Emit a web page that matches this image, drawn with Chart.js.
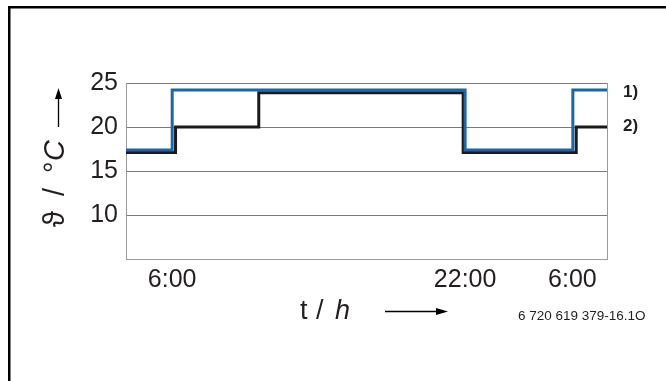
<!DOCTYPE html>
<html>
<head>
<meta charset="utf-8">
<script src="https://cdn.jsdelivr.net/npm/chart.js@4.4.1/dist/chart.umd.min.js"></script>
<style>
  body { margin: 0; background: #fff; }
  canvas { display: block; }
</style>
</head>
<body>
<canvas id="tempChart" width="666" height="381"></canvas>
<script>
// schematic time axis, 0..100 across the plot
const xRange = [0, 100];
const tickPositions = [9.6, 70.5, 92.8];
const tickLabels = ['6:00', '22:00', '6:00'];
const yRange = [5, 25];

// 1) blue curve
const series1X = [0, 9.6, 70.5, 92.9, 100];
const series1Y = [17.4, 24.2, 17.4, 24.2, 24.2];
// 2) black curve
const series2X = [0, 10.3, 27.6, 70.1, 93.6, 100];
const series2Y = [17.1, 20, 23.9, 17.1, 20, 20];
const seriesNames = ['1)', '2)'];

const fontFamily = "'Liberation Sans', Arial, 'DejaVu Sans', sans-serif";
const ink = '#231f20';

function toPoints(xs, ys) {
    return xs.map((x, i) => ({ x: x, y: ys[i] }));
}

// frame, titles, arrows and the little reference number
const decorPlugin = {
    id: 'decor',
    afterDraw(chart) {
        const ctx = chart.ctx;
        const area = chart.chartArea;
        const yScale = chart.scales.y;
        ctx.save();

        // outer frame (top + left only)
        ctx.fillStyle = '#000';
        ctx.fillRect(8, 6, 658, 2.5);
        ctx.fillRect(8, 6, 2.5, 375);

        // right border of plot
        ctx.strokeStyle = '#9a9a9a';
        ctx.lineWidth = 1;
        ctx.beginPath();
        ctx.moveTo(area.right + 0.5, area.top);
        ctx.lineTo(area.right + 0.5, area.bottom);
        ctx.stroke();

        // series labels at the right end
        ctx.fillStyle = ink;
        ctx.font = 'bold 17px ' + fontFamily;
        ctx.textAlign = 'left';
        ctx.textBaseline = 'middle';
        ctx.fillText(seriesNames[0], area.right + 16, yScale.getPixelForValue(series1Y[series1Y.length - 1]) + 2.5);
        ctx.fillText(seriesNames[1], area.right + 16, yScale.getPixelForValue(series2Y[series2Y.length - 1]) - 1);

        // y axis title, rotated
        ctx.save();
        ctx.translate(64, 227);
        ctx.rotate(-Math.PI / 2);
        ctx.textBaseline = 'alphabetic';
        ctx.font = '29px ' + fontFamily;
        ctx.fillText('\u03d1', 0, 0);
        ctx.fillText('/', 31, 0);
        ctx.fillText('\u00b0', 54, 0);
        ctx.font = 'italic 29px ' + fontFamily;
        ctx.fillText('C', 66, 0);
        ctx.restore();

        // y arrow
        ctx.strokeStyle = '#000';
        ctx.fillStyle = '#000';
        ctx.lineWidth = 1.3;
        ctx.beginPath();
        ctx.moveTo(58.5, 127);
        ctx.lineTo(58.5, 97);
        ctx.stroke();
        ctx.beginPath();
        ctx.moveTo(58.5, 88);
        ctx.lineTo(55, 99);
        ctx.lineTo(62, 99);
        ctx.closePath();
        ctx.fill();

        // x axis title
        ctx.fillStyle = ink;
        ctx.textBaseline = 'alphabetic';
        ctx.font = '27px ' + fontFamily;
        ctx.fillText('t', 300, 318.5);
        ctx.fillText('/', 316, 318.5);
        ctx.font = 'italic 27px ' + fontFamily;
        ctx.fillText('h', 335, 318.5);

        // x arrow
        ctx.strokeStyle = '#000';
        ctx.fillStyle = '#000';
        ctx.beginPath();
        ctx.moveTo(385, 311.5);
        ctx.lineTo(438, 311.5);
        ctx.stroke();
        ctx.beginPath();
        ctx.moveTo(448, 311.5);
        ctx.lineTo(436, 308);
        ctx.lineTo(436, 315);
        ctx.closePath();
        ctx.fill();

        // figure id
        ctx.fillStyle = ink;
        ctx.font = '13.5px ' + fontFamily;
        ctx.textBaseline = 'middle';
        ctx.fillText('6 720 619 379-16.1O', 518, 316);

        ctx.restore();
    }
};

new Chart(document.getElementById('tempChart'), {
    type: 'line',
    data: {
        datasets: [{
            label: seriesNames[0],
            data: toPoints(series1X, series1Y),
            borderColor: '#1b64ae',
            borderWidth: 3,
            stepped: 'before',
            pointRadius: 0,
            borderJoinStyle: 'miter'
        }, {
            label: seriesNames[1],
            data: toPoints(series2X, series2Y),
            borderColor: '#1a1a1a',
            borderWidth: 3,
            stepped: 'before',
            pointRadius: 0,
            borderJoinStyle: 'miter'
        }]
    },
    options: {
        responsive: false,
        animation: false,
        layout: { padding: { top: 83, right: 59, left: 0, bottom: 0 } },
        plugins: {
            legend: { display: false },
            tooltip: { enabled: false }
        },
        scales: {
            x: {
                type: 'linear',
                min: xRange[0],
                max: xRange[1],
                afterFit: s => { s.height = 122; },
                afterBuildTicks: s => { s.ticks = tickPositions.map(v => ({ value: v })); },
                grid: { display: false, drawTicks: false },
                border: { display: true, color: '#9a9a9a', width: 1 },
                ticks: {
                    autoSkip: false,
                    maxRotation: 0,
                    padding: 6,
                    color: ink,
                    font: { family: fontFamily, size: 25 },
                    callback: (v, i) => tickLabels[i]
                }
            },
            y: {
                min: yRange[0],
                max: yRange[1],
                afterFit: s => { s.width = 126; },
                grid: { color: '#7a7a7a', lineWidth: 1, drawTicks: false },
                border: { display: true, color: '#9a9a9a', width: 1 },
                ticks: {
                    stepSize: 5,
                    padding: 8,
                    color: ink,
                    font: { family: fontFamily, size: 25 },
                    callback: v => (v === yRange[0] ? '' : v)
                }
            }
        }
    },
    plugins: [decorPlugin]
});
</script>
</body>
</html>
